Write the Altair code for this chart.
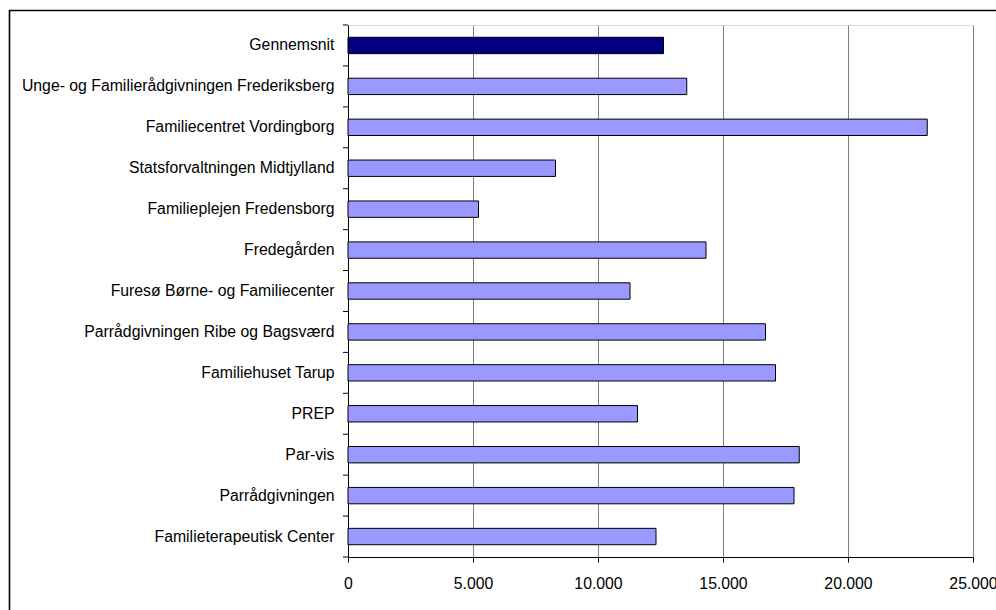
import altair as alt
import pandas as pd

categories = [
    "Gennemsnit",
    "Unge- og Familierådgivningen Frederiksberg",
    "Familiecentret Vordingborg",
    "Statsforvaltningen Midtjylland",
    "Familieplejen Fredensborg",
    "Fredegården",
    "Furesø Børne- og Familiecenter",
    "Parrådgivningen Ribe og Bagsværd",
    "Familiehuset Tarup",
    "PREP",
    "Par-vis",
    "Parrådgivningen",
    "Familieterapeutisk Center",
]
values = [12620, 13550, 23170, 8300, 5220, 14320, 11280, 16700, 17100, 11580, 18050, 17840, 12320]
kinds = ["avg"] + ["unit"] * 12
x_ticks = [0, 5000, 10000, 15000, 20000, 25000]

df = pd.DataFrame({"name": categories, "value": values, "kind": kinds})
boundaries = pd.DataFrame({"b": list(range(len(categories) + 1))})

FONT = "Liberation Sans"
FS = 15.8

bars = alt.Chart(df).mark_bar(stroke="#000000", strokeWidth=1).encode(
    y=alt.Y(
        "name:N",
        sort=categories,
        title=None,
        scale=alt.Scale(paddingInner=0.6, paddingOuter=0.3),
        axis=alt.Axis(
            ticks=False,
            domainColor="#000000",
            labelFont=FONT,
            labelFontSize=FS,
            labelColor="#000000",
            labelPadding=14,
            labelLimit=400,
            grid=False,
        ),
    ),
    x=alt.X(
        "value:Q",
        title=None,
        scale=alt.Scale(domain=[0, 25000], nice=False),
        axis=alt.Axis(
            values=x_ticks,
            labelExpr="replace(format(datum.value, ','), ',', '.')",
            tickSize=5,
            tickColor="#000000",
            domainColor="#000000",
            gridColor="#808080",
            gridWidth=1,
            labelFont=FONT,
            labelFontSize=FS,
            labelColor="#000000",
            labelPadding=14,
            labelFlush=False,
        ),
    ),
    color=alt.Color(
        "kind:N",
        scale=alt.Scale(domain=["avg", "unit"], range=["#000080", "#9999FF"]),
        legend=None,
    ),
)

yticks = alt.Chart(boundaries).mark_rule(color="#000000", strokeWidth=1).encode(
    y=alt.Y(
        "b:Q",
        scale=alt.Scale(domain=[0, len(categories)], nice=False, zero=True),
        axis=None,
    ),
    x=alt.value(-5),
    x2=alt.value(0),
)

border = alt.Chart(alt.Data(values=[{}])).mark_rect(
    fill="transparent", stroke="#000000", strokeWidth=1.6
).encode(
    x=alt.value(-338.5),
    x2=alt.value(1200),
    y=alt.value(-14.5),
    y2=alt.value(900),
)

chart = (
    alt.layer(border, bars, yticks)
    .resolve_scale(y="independent")
    .properties(
        width=625,
        height=532,
        autosize=alt.AutoSizeParams(type="none"),
        padding={"left": 348, "top": 25, "right": 23, "bottom": 53},
    )
    .configure_view(stroke="#999999", strokeWidth=1)
    .configure(background="#ffffff")
)

chart.save("out.html", embed_options={"renderer": "svg", "actions": False})
